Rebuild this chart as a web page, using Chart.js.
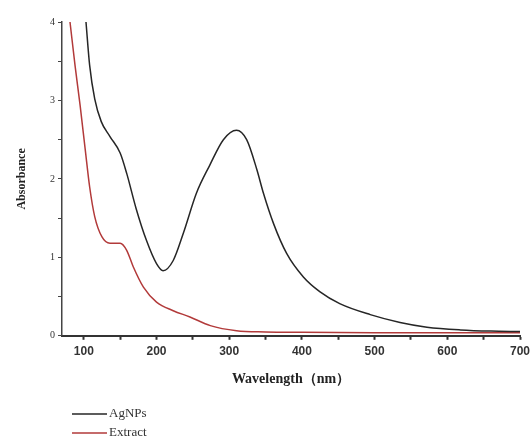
<!DOCTYPE html>
<html>
<head>
<meta charset="utf-8">
<script src="https://cdn.jsdelivr.net/npm/chart.js@4/dist/chart.umd.min.js"></script>
<style>
  html, body { margin: 0; padding: 0; background: #fff; }
  #wrap { width: 530px; height: 439px; }
</style>
</head>
<body>
<div id="wrap"><canvas id="uv-chart" width="530" height="439"></canvas></div>
<script>
let ctx = document.getElementById('uv-chart').getContext('2d');

// AgNPs spectrum
let agnpsWavelength = [103, 108, 115, 124, 136, 150, 159, 172, 186, 200, 209, 223, 237, 255, 273, 292, 310, 324, 338, 347, 361, 379, 402, 425, 452, 494, 535, 572, 618, 660, 700];
let agnpsAbsorbance = [4.0, 3.45, 3.02, 2.73, 2.54, 2.33, 2.07, 1.62, 1.22, 0.92, 0.83, 0.96, 1.31, 1.82, 2.17, 2.50, 2.62, 2.50, 2.12, 1.82, 1.43, 1.05, 0.75, 0.56, 0.41, 0.27, 0.17, 0.11, 0.075, 0.06, 0.055];

// Extract spectrum
let extractWavelength = [81, 88, 95, 102, 108, 115, 125, 136, 150, 159, 168, 182, 200, 223, 246, 274, 310, 350, 400, 500, 600, 700];
let extractAbsorbance = [4.0, 3.44, 2.93, 2.37, 1.90, 1.52, 1.26, 1.18, 1.18, 1.09, 0.88, 0.62, 0.43, 0.32, 0.24, 0.13, 0.065, 0.05, 0.045, 0.04, 0.04, 0.04];

let seriesLabels = ['AgNPs', 'Extract'];
let xTitle = 'Wavelength（nm）';
let yTitle = 'Absorbance';

function toPoints(xs, ys) {
    return xs.map((x, i) => ({ x: x, y: ys[i] }));
}

let serif = "'Liberation Serif', 'DejaVu Serif', serif";
let sans = "'Liberation Sans', Arial, sans-serif";

// Legend drawn under the axis title, lines stacked vertically
let stackedLegend = {
    id: 'stackedLegend',
    afterDraw(chart) {
        let c = chart.ctx;
        let left = chart.chartArea.left + 10;
        let rows = [chart.height - 25, chart.height - 6];
        c.save();
        chart.data.datasets.forEach((ds, i) => {
            let y = rows[i];
            c.strokeStyle = ds.borderColor;
            c.lineWidth = 1.5;
            c.beginPath();
            c.moveTo(left, y);
            c.lineTo(left + 35, y);
            c.stroke();
            c.fillStyle = '#333';
            c.font = '13px ' + serif;
            c.textBaseline = 'middle';
            c.fillText(ds.label, left + 37, y);
        });
        c.restore();
    }
};

let uvData = {
    datasets: [{
        label: seriesLabels[0],
        data: toPoints(agnpsWavelength, agnpsAbsorbance),
        borderColor: '#262626',
        borderWidth: 1.5,
        pointRadius: 0,
        cubicInterpolationMode: 'monotone',
        fill: false
    }, {
        label: seriesLabels[1],
        data: toPoints(extractWavelength, extractAbsorbance),
        borderColor: '#b23a3a',
        borderWidth: 1.5,
        pointRadius: 0,
        cubicInterpolationMode: 'monotone',
        fill: false
    }]
};

let chartOptions = {
    responsive: false,
    animation: false,
    layout: {
        padding: { top: 22, right: 0, bottom: 47, left: 0 }
    },
    scales: {
        x: {
            type: 'linear',
            min: 70,
            max: 700,
            afterBuildTicks: scale => {
                scale.ticks = scale.ticks.filter(t => t.value % 50 === 0);
            },
            // the last label may run past the plot edge
            afterFit: scale => {
                scale.paddingLeft = 0;
                scale.paddingRight = 10;
            },
            ticks: {
                stepSize: 50,
                autoSkip: false,
                maxRotation: 0,
                padding: 5,
                color: '#333',
                font: { family: sans, size: 12, weight: 'bold' },
                callback: v => (v % 100 === 0 ? v : '')
            },
            grid: {
                drawOnChartArea: false,
                tickLength: 4,
                tickColor: '#333',
                tickWidth: 2
            },
            border: { color: '#333', width: 2 },
            title: {
                display: true,
                text: xTitle,
                color: '#222',
                font: { family: serif, size: 14, weight: 'bold' },
                padding: { top: 7, bottom: 4 }
            }
        },
        y: {
            min: 0,
            max: 4,
            afterFit: scale => { scale.width = 62; },
            ticks: {
                stepSize: 0.5,
                padding: 3,
                color: '#333',
                font: { family: serif, size: 10 },
                callback: v => (Number.isInteger(v) ? v : '')
            },
            grid: {
                drawOnChartArea: false,
                tickLength: 4,
                tickColor: '#444',
                tickWidth: 1
            },
            border: { color: '#444', width: 1.5 },
            title: {
                display: true,
                text: yTitle,
                color: '#222',
                font: { family: serif, size: 12, weight: 'bold' },
                padding: { top: 15, bottom: 4 }
            }
        }
    },
    plugins: {
        legend: { display: false },
        tooltip: { enabled: false }
    }
};

let uvChart = new Chart(ctx, {
    type: 'line',
    data: uvData,
    options: chartOptions,
    plugins: [stackedLegend]
});
</script>
</body>
</html>
